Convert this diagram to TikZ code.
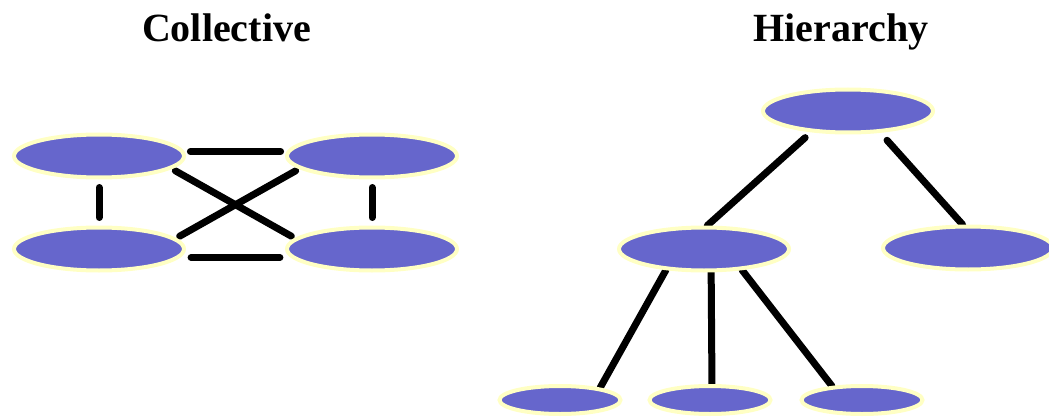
\documentclass[tikz,border=0pt]{standalone}
\usepackage{fontspec}
\setmainfont{Liberation Serif}
\usepackage{tikz}
\usetikzlibrary{shapes.geometric, backgrounds}

\definecolor{blob}{HTML}{6666CC}
\definecolor{rim}{HTML}{FFFFC4}

\begin{document}
\begin{tikzpicture}[x=1pt, y=-1pt,
        big/.style={ellipse, fill=blob, draw=rim, line width=4pt, inner sep=0pt,
            minimum width=170pt, minimum height=43pt},
        small/.style={big, minimum width=121pt, minimum height=28pt},
        link/.style={line width=7pt, line cap=round},
        title/.style={font=\fontsize{40}{40}\selectfont\bfseries, anchor=base}]
        \useasboundingbox (0,0) rectangle (1049,417);

        % Titles
        \node[title] (tcol) at (226.5,42) {Collective};
        \node[title] (thie) at (841,42) {Hierarchy};

        % Collective: four members
        \node[big] (tl) at (99,156) {};
        \node[big] (tr) at (372,156) {};
        \node[big] (bl) at (99,249) {};
        \node[big] (br) at (372,249) {};

        % Hierarchy: root, two middle, three leaves
        \node[big] (root) at (848,111) {};
        \node[big] (midl) at (704,249) {};
        \node[big] (midr) at (968,248) {};
        \node[small] (leafa) at (560,400) {};
        \node[small] (leafb) at (710,400) {};
        \node[small] (leafc) at (862,400) {};

        % Links everyone to everyone
        \begin{scope}[on background layer]
            \draw[link, shorten <=6pt, shorten >=6pt] (tl.3) -- (tr.177);
            \draw[link, shorten <=11pt, shorten >=11pt] (bl.-6) -- (br.186);
            \draw[link, shorten <=8pt, shorten >=8pt] (tl.south) -- (bl.north);
            \draw[link, shorten <=8pt, shorten >=8pt] (tr.south) -- (br.north);
            \draw[link, shorten <=4pt, shorten >=4pt] (tl.-10) -- (br.172);
            \draw[link, shorten <=4pt, shorten >=4pt] (tr.190) -- (bl.8);

            % Links down the tree
            \draw[link, shorten <=8pt] (root.210) -- (midl.82);
            \draw[link, shorten <=10pt] (root.-34) -- (midr.103);
            \draw[link] (midl.209) -- (leafa.17);
            \draw[link] (midl.-73) -- (leafb.83);
            \draw[link] (midl.-29) -- (leafc.155);
        \end{scope}
\end{tikzpicture}
\end{document}
